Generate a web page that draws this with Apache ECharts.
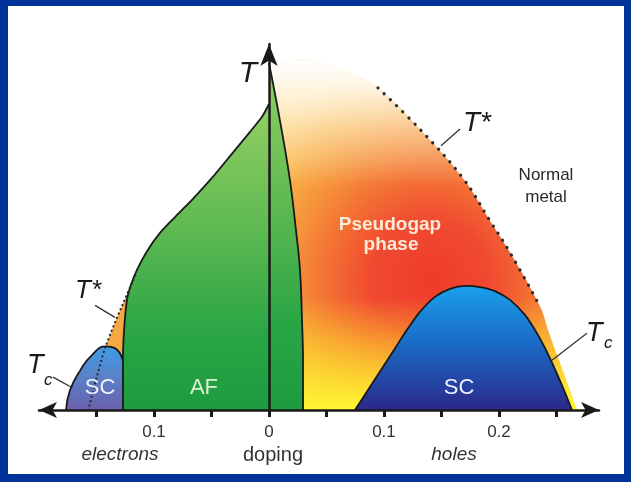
<!DOCTYPE html>
<html><head><meta charset="utf-8">
<script src="https://cdn.jsdelivr.net/npm/echarts@6/dist/echarts.min.js"></script>
<style>html,body{margin:0;padding:0;background:#fff;}#c{width:631px;height:482px;}</style>
</head><body><div id="c"></div>
<script>
// doping: negative = electrons, positive = holes; T in arbitrary units (0..1)
const tickValues = [-0.15, -0.1, -0.05, 0, 0.05, 0.1, 0.15, 0.2, 0.25];
const tickLabelValues = [-0.1, 0, 0.1, 0.2];

const afLeftDoping = [-0.127, -0.127, -0.126, -0.1235, -0.1200, -0.1148, -0.1061, -0.0948, -0.0809, -0.0661, -0.0496, -0.0330, -0.0165, -0.0061, 0];
const afLeftT      = [0, 0.136, 0.219, 0.301, 0.342, 0.383, 0.434, 0.484, 0.530, 0.577, 0.634, 0.697, 0.760, 0.801, 0.836];
const afRightDoping = [0, 0.0096, 0.0183, 0.0235, 0.027, 0.0287, 0.0296, 0.0296];
const afRightT      = [0.948, 0.790, 0.627, 0.490, 0.381, 0.245, 0.136, 0];

const pseudogapDoping = [0, 0.03, 0.062, 0.0948, 0.131, 0.169, 0.192, 0.21, 0.236, 0.2426, 0.253, 0.268];
const pseudogapT      = [0.95, 0.955, 0.93, 0.88, 0.768, 0.632, 0.518, 0.428, 0.281, 0.219, 0.128, 0];
const tStarHoleDoping = [0.0948, 0.131, 0.169, 0.192, 0.21, 0.236];
const tStarHoleT      = [0.88, 0.768, 0.632, 0.518, 0.428, 0.281];

const scHoleDoping = [0.0748, 0.0861, 0.0974, 0.1087, 0.12, 0.1313, 0.1443, 0.1574, 0.1704, 0.1835, 0.1965, 0.2096, 0.2226, 0.2339, 0.2443, 0.2539, 0.2635];
const scHoleT      = [0, 0.0546, 0.109, 0.164, 0.219, 0.268, 0.309, 0.331, 0.339, 0.336, 0.325, 0.301, 0.260, 0.205, 0.142, 0.074, 0];
const scElecDoping = [-0.1765, -0.173, -0.164, -0.154, -0.142, -0.134, -0.127];
const scElecT      = [0, 0.0545, 0.109, 0.150, 0.174, 0.169, 0.136];
const tStarElecDoping = [-0.157, -0.142, -0.115];
const tStarElecT      = [0, 0.174, 0.376];

const pair = (a, b) => a.map((v, i) => [v, b[i]]);
const lin = (stops, x2, y2) => new echarts.graphic.LinearGradient(0, 0, x2 == null ? 0 : x2, y2 == null ? 1 : y2,
  stops.map(s => ({offset: s[0], color: s[1]})));
const FONT = '"Liberation Sans", Arial, sans-serif';
const INK = '#1a1a1a';

const greenStops = [[0, '#92cf63'], [0.4, '#5fba52'], [0.75, '#2aa545'], [1, '#1c9c3e']];

const chart = echarts.init(document.getElementById('c'), null, {renderer: 'canvas'});

function txt(text, x, y, font, fill, align) {
  return {type: 'text', x: x, y: y, z: 100,
    style: {text: text, font: font, fill: fill || INK, align: align || 'center', verticalAlign: 'middle'}};
}
const frame = '#003399';
const pgData = pair(pseudogapDoping, pseudogapT);

chart.setOption({
  backgroundColor: '#ffffff',
  animation: false,
  grid: {left: 39, right: 32, top: 44, bottom: 72},
  xAxis: {
    type: 'value', min: -0.2, max: 0.287, z: 10,
    axisLine: {onZero: true, symbol: ['arrow', 'arrow'], symbolSize: [12, 18],
      lineStyle: {color: INK, width: 2.5}},
    axisTick: {show: true, customValues: tickValues, length: 7, inside: false,
      lineStyle: {color: INK, width: 3}},
    axisLabel: {customValues: tickLabelValues, formatter: v => String(Math.abs(v)),
      margin: 14, fontSize: 17, color: '#333', fontFamily: FONT},
    splitLine: {show: false}
  },
  yAxis: {
    type: 'value', min: 0, max: 1, z: 10,
    axisLine: {onZero: true, symbol: ['none', 'arrow'], symbolSize: [13, 22],
      lineStyle: {color: INK, width: 2.5}},
    axisTick: {show: false}, axisLabel: {show: false}, splitLine: {show: false}
  },
  series: [
    { // pseudogap dome
      type: 'line', z: 2, smooth: 0.4, symbol: 'none', silent: true, data: pgData,
      lineStyle: {width: 0, opacity: 0},
      areaStyle: {opacity: 1, color: new echarts.graphic.RadialGradient(0.523, 0.629, 0.714, [
        {offset: 0, color: '#ee3b2b'}, {offset: 0.27, color: '#f04a30'},
        {offset: 0.45, color: '#f36d33'}, {offset: 0.64, color: '#f6953a'},
        {offset: 0.82, color: '#f9b54a'}, {offset: 1, color: '#fbd070'}])}
    },
    { // yellow glow along the doping axis
      type: 'line', z: 3, smooth: 0.4, symbol: 'none', silent: true, data: pgData,
      lineStyle: {width: 0, opacity: 0},
      areaStyle: {opacity: 1, color: lin([[0, 'rgba(255,242,40,0)'], [0.68, 'rgba(255,242,40,0)'],
        [0.86, 'rgba(255,236,45,0.6)'], [1, 'rgba(255,245,50,1)']])}
    },
    { // fade to white at the top
      type: 'line', z: 3, smooth: 0.4, symbol: 'none', silent: true, data: pgData,
      lineStyle: {width: 0, opacity: 0},
      areaStyle: {opacity: 1, color: lin([[0, 'rgba(255,255,255,1)'], [0.06, 'rgba(255,255,255,0.85)'],
        [0.2, 'rgba(255,255,255,0.4)'], [0.36, 'rgba(255,255,255,0)'], [1, 'rgba(255,255,255,0)']])}
    },
    { // orange T* wedge, electron side
      type: 'line', z: 4, smooth: 0.3, symbol: 'none', silent: true,
      data: pair(tStarElecDoping, tStarElecT),
      lineStyle: {width: 0, opacity: 0},
      areaStyle: {opacity: 1, color: '#f5a742'}
    },
    { // SC dome, holes
      type: 'line', z: 5, smooth: 0.3, symbol: 'none', silent: true,
      data: pair(scHoleDoping, scHoleT),
      lineStyle: {color: INK, width: 1.8},
      areaStyle: {opacity: 1, color: lin([[0, '#1aa0ea'], [0.45, '#1a6cc8'], [1, '#2b2889']])}
    },
    { // SC dome, electrons
      type: 'line', z: 6, smooth: 0.5, symbol: 'none', silent: true,
      data: pair(scElecDoping, scElecT),
      lineStyle: {color: INK, width: 1.8},
      areaStyle: {opacity: 1, color: lin([[0, '#3f9be6'], [0.5, '#5a80c6'], [1, '#6b5fae']])}
    },
    { // AF, electron side
      type: 'line', z: 7, smooth: 0.3, symbol: 'none', silent: true,
      data: pair(afLeftDoping, afLeftT),
      lineStyle: {color: INK, width: 1.8},
      areaStyle: {opacity: 1, color: lin(greenStops)}
    },
    { // AF, hole side wedge
      type: 'line', z: 7, smooth: 0.4, symbol: 'none', silent: true,
      data: pair(afRightDoping, afRightT),
      lineStyle: {color: INK, width: 1.8},
      areaStyle: {opacity: 1, color: lin(greenStops)}
    },
    { // T* dotted, holes
      type: 'line', z: 8, smooth: 0.4, symbol: 'none', silent: true,
      data: pair(tStarHoleDoping, tStarHoleT),
      lineStyle: {color: '#2b2b2b', width: 3.2, type: [0.1, 8.5], cap: 'round'}
    },
    { // T* dotted, electrons
      type: 'line', z: 8, smooth: 0.3, symbol: 'none', silent: true,
      data: pair(tStarElecDoping, tStarElecT),
      lineStyle: {color: '#2b2b2b', width: 2.2, type: [0.1, 4.5], cap: 'round'}
    },
    { // leader lines for labels
      type: 'lines', coordinateSystem: 'cartesian2d', z: 8, silent: true,
      lineStyle: {color: '#333', width: 1.3, opacity: 1},
      data: [
        {coords: [[0.1496, 0.722], [0.1661, 0.768]]},
        {coords: [[-0.1513, 0.286], [-0.1339, 0.253]]},
        {coords: [[-0.1878, 0.090], [-0.1722, 0.0627]]},
        {coords: [[0.2461, 0.136], [0.2765, 0.210]]}
      ]
    }
  ],
  graphic: [
    {type: 'rect', z: 100, shape: {x: 0, y: 0, width: 631, height: 6}, style: {fill: frame}},
    {type: 'rect', z: 100, shape: {x: 0, y: 0, width: 8, height: 482}, style: {fill: frame}},
    {type: 'rect', z: 100, shape: {x: 624, y: 0, width: 7, height: 482}, style: {fill: frame}},
    {type: 'rect', z: 100, shape: {x: 0, y: 474, width: 631, height: 8}, style: {fill: frame}},
    txt('T', 248, 74, 'italic 30px ' + FONT),
    txt('T*', 463, 123, 'italic 28px ' + FONT, INK, 'left'),
    txt('Normal', 546, 175, '17px ' + FONT, '#2a2a2a'),
    txt('metal', 546, 197, '17px ' + FONT, '#2a2a2a'),
    txt('Pseudogap', 390, 225, 'bold 19px ' + FONT, '#fcebd8'),
    txt('phase', 391, 245, 'bold 19px ' + FONT, '#fcebd8'),
    txt('T*', 75, 291, 'italic 26px ' + FONT, INK, 'left'),
    txt('T', 27, 365, 'italic 27px ' + FONT, INK, 'left'),
    txt('c', 44, 380, 'italic 17px ' + FONT, INK, 'left'),
    txt('T', 586, 333, 'italic 27px ' + FONT, INK, 'left'),
    txt('c', 604, 343, 'italic 17px ' + FONT, INK, 'left'),
    txt('SC', 100, 388, '22px ' + FONT, '#eef0ff'),
    txt('AF', 204, 388, '22px ' + FONT, '#d9f2cf'),
    txt('SC', 459, 388, '22px ' + FONT, '#eef0ff'),
    txt('electrons', 120, 455, 'italic 19px ' + FONT, '#333'),
    txt('doping', 273, 455, '20px ' + FONT, '#333'),
    txt('holes', 454, 455, 'italic 19px ' + FONT, '#333')
  ]
});
</script></body></html>
